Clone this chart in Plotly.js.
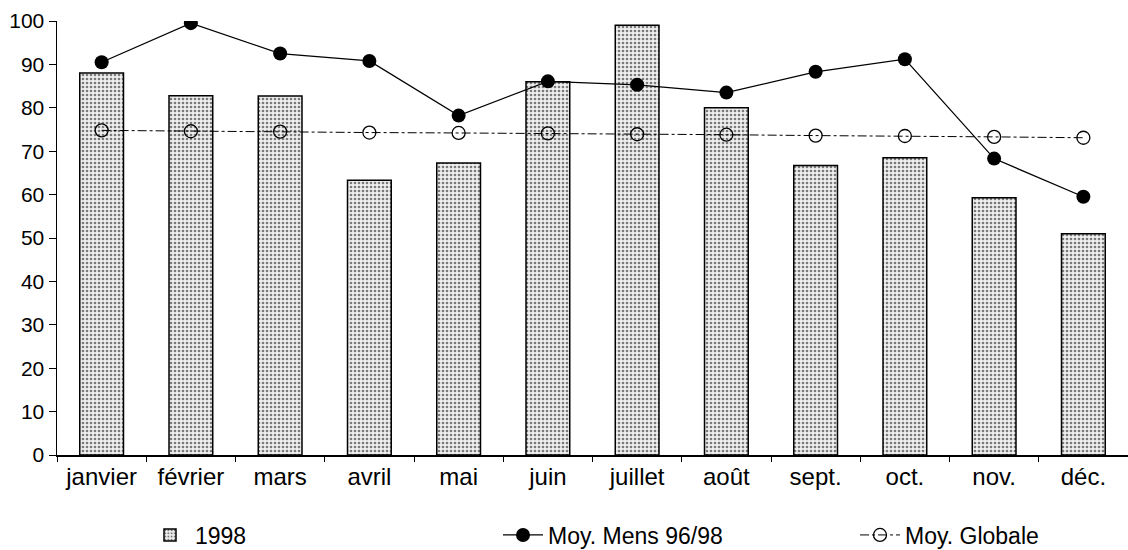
<!DOCTYPE html>
<html>
<head>
<meta charset="utf-8">
<script src="https://cdn.plot.ly/plotly-3.0.1.min.js"></script>
<style>html,body{margin:0;padding:0;background:#fff;}#chart{width:1128px;height:550px;}</style>
</head>
<body>
<div id="chart"></div>
<script>
const months = ["janvier","février","mars","avril","mai","juin","juillet","août","sept.","oct.","nov.","déc."];
const values1998 = [88, 82.8, 82.7, 63.3, 67.3, 86, 99, 80, 66.7, 68.5, 59.3, 51];
const moyMens = [90.5, 99.5, 92.5, 90.8, 78.2, 86.1, 85.3, 83.5, 88.3, 91.2, 68.3, 59.5];
const moyGlobale = [74.8, 74.6, 74.5, 74.3, 74.2, 74.1, 73.9, 73.8, 73.6, 73.5, 73.3, 73.1];

const fam = "Liberation Sans, Arial, sans-serif";
const yFont = {family: fam, size: 21, color: "#000"};
const xFont = {family: fam, size: 24, color: "#000"};
const legFont = {family: fam, size: 23, color: "#000"};

const traces = [
  {
    type: "bar", name: "1998", x: months, y: values1998, width: 0.49, legend: "legend",
    marker: {color: "#e6e6e6", line: {color: "#000", width: 1.5},
      pattern: {shape: ".", fgcolor: "#7a7a7a", bgcolor: "#efefef", size: 4, solidity: 0.35}}
  },
  {
    type: "scatter", mode: "lines+markers", name: "Moy. Mens 96/98", x: months, y: moyMens, legend: "legend2",
    line: {color: "#000", width: 1.3}, marker: {color: "#000", size: 14, symbol: "circle"}
  },
  {
    type: "scatter", mode: "lines+markers", name: "Moy. Globale", x: months, y: moyGlobale, legend: "legend3",
    line: {color: "#000", width: 1, dash: "dashdot"},
    marker: {color: "#000", size: 13, symbol: "circle-open", line: {width: 1.3, color: "#000"}}
  }
];

function leg(xpx) {
  return {orientation: "h", xref: "container", yref: "container", x: xpx / 1128, xanchor: "left",
    y: 0.0273, yanchor: "middle", font: legFont, itemwidth: 40, bgcolor: "rgba(0,0,0,0)"};
}

const layout = {
  width: 1128, height: 550,
  margin: {l: 57, r: 0, t: 21, b: 95},
  paper_bgcolor: "#fff", plot_bgcolor: "#fff",
  showlegend: true,
  legend: leg(145),
  legend2: leg(498),
  legend3: leg(855),
  xaxis: {type: "category", range: [-0.5, 11.5], showline: true, linecolor: "#000", linewidth: 1.5,
    ticks: "outside", tickson: "boundaries", ticklen: 5, tickcolor: "#000",
    showgrid: false, zeroline: false, tickfont: xFont, fixedrange: true},
  yaxis: {range: [0, 100], tickvals: [0,10,20,30,40,50,60,70,80,90,100], showline: true,
    linecolor: "#000", linewidth: 1.5, ticks: "outside", ticklen: 7, tickcolor: "#000",
    showgrid: false, zeroline: false, tickfont: yFont, fixedrange: true}
};

Plotly.newPlot("chart", traces, layout, {staticPlot: true});
</script>
</body>
</html>
